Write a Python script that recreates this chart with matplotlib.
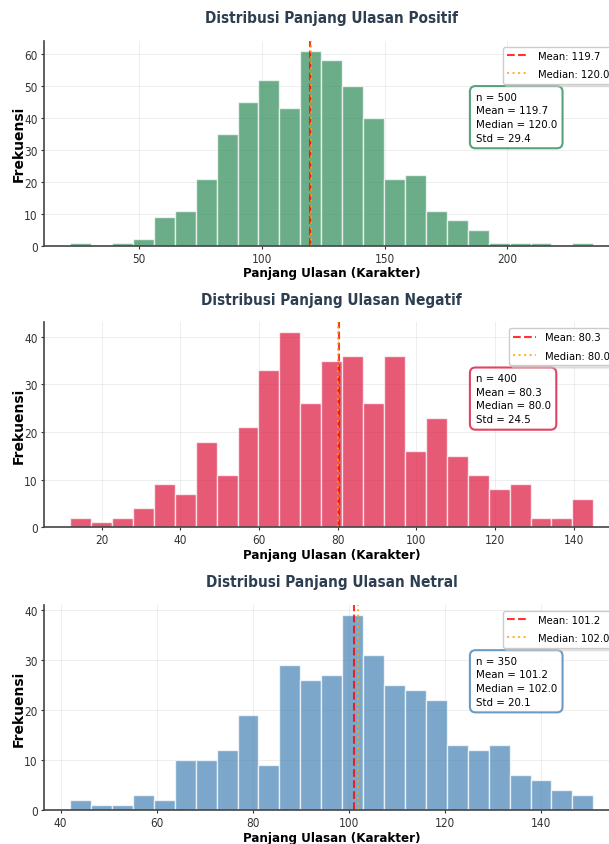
import matplotlib
matplotlib.use('Agg')
import matplotlib.pyplot as plt
import numpy as np

# histogram counts (25 bins each)
pos_counts = [1, 0, 1, 2, 9, 11, 21, 35, 45, 52, 43, 61, 58, 50, 40, 21, 22, 11, 8, 5, 1, 1, 1, 0, 1]
neg_counts = [2, 1, 2, 4, 9, 7, 18, 11, 21, 33, 41, 26, 35, 36, 26, 36, 16, 23, 15, 11, 8, 9, 2, 2, 6]
neu_counts = [2, 1, 1, 3, 2, 10, 10, 12, 19, 9, 29, 26, 27, 39, 31, 25, 24, 22, 13, 12, 13, 7, 6, 4, 3]

# data range (min, max length) per sentiment
pos_range = (22, 235)
neg_range = (12, 145)
neu_range = (42, 151)

# summary stats (n, mean, median, std)
pos_stats = (500, 119.7, 120.0, 29.4)
neg_stats = (400, 80.3, 80.0, 24.5)
neu_stats = (350, 101.2, 102.0, 20.1)

titles = ['Distribusi Panjang Ulasan Positif',
          'Distribusi Panjang Ulasan Negatif',
          'Distribusi Panjang Ulasan Netral']
colors = ['#2E8B57', '#DC143C', '#4682B4']

# the reference text is narrow -> condensed DejaVu
plt.rcParams['font.family'] = ['DejaVu Sans']
plt.rcParams['font.stretch'] = 'condensed'

fig = plt.figure(figsize=(6.09, 8.45), dpi=100)

# axes boxes (left, bottom, width, height) in figure fraction
boxes = [[0.0722, 0.7080, 0.945, 0.2423],
         [0.0722, 0.3751, 0.945, 0.2421],
         [0.0722, 0.0402, 0.945, 0.2426]]

panels = [(pos_counts, pos_range, pos_stats),
          (neg_counts, neg_range, neg_stats),
          (neu_counts, neu_range, neu_stats)]

for i, (counts, rng, stats) in enumerate(panels):
    ax = fig.add_axes(boxes[i])
    edges = np.linspace(rng[0], rng[1], len(counts) + 1)
    centers = (edges[:-1] + edges[1:]) / 2
    ax.hist(centers, bins=edges, weights=counts, color=colors[i], alpha=0.7,
            edgecolor='white', linewidth=1)

    n, mean, median, std = stats
    ax.axvline(mean, color='red', linestyle='--', linewidth=1.5, alpha=0.8,
               label='Mean: {:.1f}'.format(mean))
    ax.axvline(median, color='orange', linestyle=':', linewidth=1.5, alpha=0.8,
               label='Median: {:.1f}'.format(median))

    ax.set_title(titles[i], fontsize=11, fontweight='bold', color='#2C3E50', pad=13.5)
    ax.set_xlabel('Panjang Ulasan (Karakter)', fontsize=9.5, fontweight='bold', labelpad=1)
    ax.set_ylabel('Frekuensi', fontsize=10, fontweight='bold', stretch='normal', labelpad=-1)
    ax.tick_params(labelsize=8.5, colors='#333333', length=2.5, pad=2)
    ax.grid(True, alpha=0.25, linewidth=0.6)
    ax.set_axisbelow(True)
    ax.spines['top'].set_visible(False)
    ax.spines['right'].set_visible(False)
    for side in ['left', 'bottom']:
        ax.spines[side].set_color('#444444')
        ax.spines[side].set_linewidth(1.2)

    ax.legend(loc='upper right', fontsize=8, labelspacing=0.75, shadow={'color': '0.8'})

    txt = 'n = {}\nMean = {:.1f}\nMedian = {:.1f}\nStd = {:.1f}'.format(n, mean, median, std)
    ax.text(0.75, 0.752, txt, transform=ax.transAxes, fontsize=8.2, va='top', ha='left',
            linespacing=1.45,
            bbox=dict(boxstyle='round,pad=0.5', facecolor='white', edgecolor=colors[i],
                      linewidth=1.5, alpha=0.8))

plt.savefig('out.png', dpi=100)
